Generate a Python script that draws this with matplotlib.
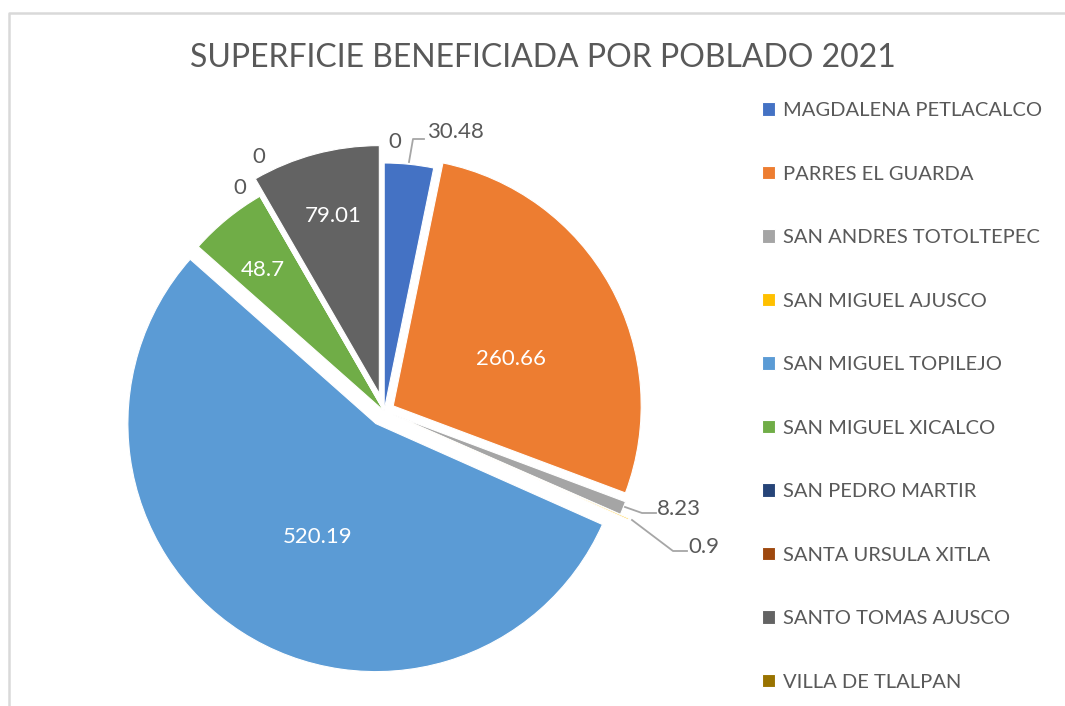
import matplotlib
matplotlib.use("Agg")
import matplotlib.pyplot as plt
from matplotlib.lines import Line2D

# ---- data ----
poblados = ["MAGDALENA PETLACALCO", "PARRES EL GUARDA", "SAN ANDRES TOTOLTEPEC",
            "SAN MIGUEL AJUSCO", "SAN MIGUEL TOPILEJO", "SAN MIGUEL XICALCO",
            "SAN PEDRO MARTIR", "SANTA URSULA XITLA", "SANTO TOMAS AJUSCO",
            "VILLA DE TLALPAN"]
superficie = [30.48, 260.66, 8.23, 0.9, 520.19, 48.7, 0, 0, 79.01, 0]
etiquetas = ["30.48", "260.66", "8.23", "0.9", "520.19", "48.7", "0", "0", "79.01", "0"]

# ---- style ----
colores = ["#4472C4", "#ED7D31", "#A5A5A5", "#FFC000", "#5B9BD5", "#70AD47",
           "#264478", "#9E480E", "#636363", "#997300"]
# explode offsets in pixels (data units)
explode = [0.0, 10.5, 10.0, 20.0, 15.0, 0.0, 0.0, 0.0, 18.0, 0.0]
W, H = 1065, 706
FONT = ["Lato", "DejaVu Sans"]
TXT = "#595959"

def P(x, y):
    return (x, H - y)

fig = plt.figure(figsize=(W / 100, H / 100), dpi=100)
ax = fig.add_axes([0, 0, 1, 1])

wedges, _ = ax.pie(superficie, colors=colores, explode=explode, startangle=90,
                   counterclock=False, radius=248, center=P(384, 411), frame=True,
                   wedgeprops=dict(linewidth=0.8, edgecolor="white"))
ax.set_xlim(0, W)
ax.set_ylim(0, H)
ax.set_aspect("equal")
ax.axis("off")

# frame border
ax.add_line(Line2D([9, 9, W], [0, H - 13, H - 13], color="#D9D9D9", lw=1.8))

# title
ax.text(*P(543, 58), "SUPERFICIE BENEFICIADA POR POBLADO 2021", ha="center", va="center",
        fontsize=23, color=TXT, family=FONT)

# data labels: (index, x, y, ha, color)
label_layout = [
    (0, 427, 132, "left", TXT),
    (1, 511, 359, "center", "white"),
    (2, 657, 509, "left", TXT),
    (3, 688, 547, "left", TXT),
    (4, 318, 537, "center", "white"),
    (5, 263, 270, "center", "white"),
    (6, 240, 188, "center", TXT),
    (7, 259, 157, "center", TXT),
    (8, 333, 216, "center", "white"),
    (9, 395, 142, "center", TXT),
]
for i, x, y, ha, c in label_layout:
    ax.text(*P(x, y), etiquetas[i], ha=ha, va="center", fontsize=16, color=c, family=FONT)

# leader lines
leaders = [
    [(409, 162), (413, 139), (424, 139)],
    [(625, 507), (642, 513), (656, 513)],
    [(632, 520), (673, 551), (687, 551)],
]
for pts in leaders:
    xs = [p[0] for p in pts]
    ys = [H - p[1] for p in pts]
    ax.add_line(Line2D(xs, ys, color="#A6A6A6", lw=1.3))

# legend
fig.legend(wedges, poblados, loc="upper left", bbox_to_anchor=(762 / W, 1 - 102 / H),
           frameon=False, handlelength=0.65, handleheight=0.65,
           handletextpad=0.4, labelspacing=2.31, borderpad=0, borderaxespad=0,
           labelcolor=TXT, prop=dict(family=FONT, size=14.5))

fig.savefig("out.png", dpi=100, facecolor="white")
